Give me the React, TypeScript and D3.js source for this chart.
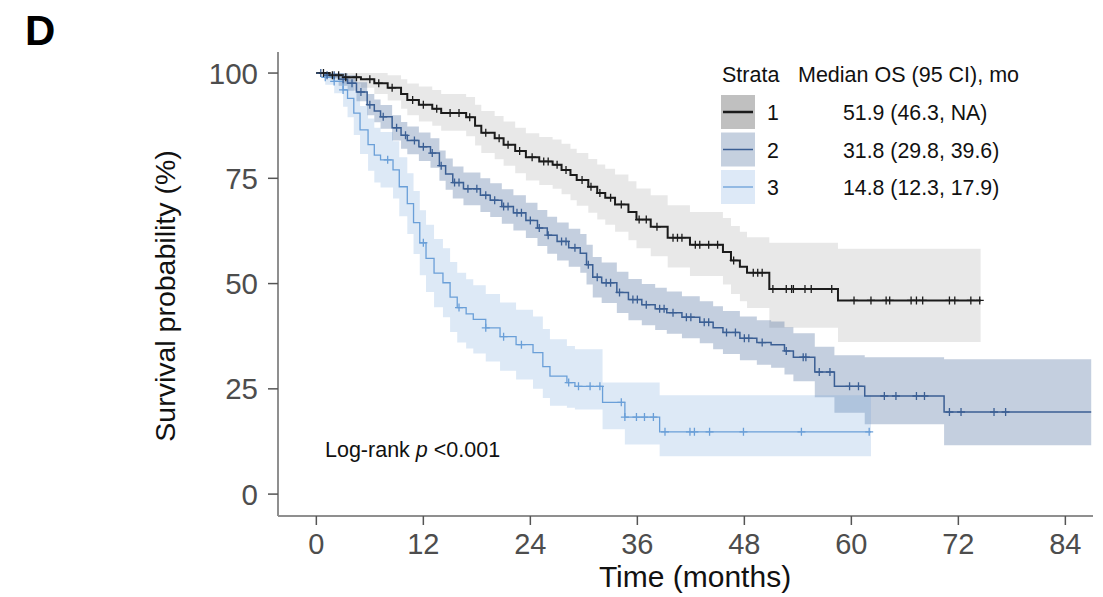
import * as d3 from 'd3'
import React from 'react'

// [time (months), survival %, lower CI %, upper CI %] at each step
type Row = [number, number, number, number]

const strata1: Row[] = [
  [0, 100, 100, 100], [1.5, 99.5, 98.5, 100], [3, 99, 97.5, 100], [5, 98.5, 96.5, 100],
  [6.5, 97.6, 95, 100], [8, 96.5, 93.5, 99.5], [9.5, 95, 91.5, 98.5], [10.2, 93.6, 90, 97.5],
  [11.5, 92.5, 88.5, 96.8], [13, 91.5, 87.5, 96], [14, 90.5, 86.3, 95], [16.8, 89.5, 85, 94.3],
  [17.8, 87.5, 82.8, 92.5], [18.5, 85.8, 81, 91], [20, 84.5, 79.5, 89.8], [21, 83, 78, 88.5],
  [22.3, 81.5, 76.2, 87], [23.5, 80, 74.5, 85.7], [25, 79, 73.4, 84.8], [26.5, 78.2, 72.5, 84.2],
  [27.5, 77, 71.2, 83.2], [28.5, 75.8, 69.8, 82], [29.2, 74.6, 68.5, 81], [30.5, 73, 66.8, 79.6],
  [31.5, 71.5, 65.2, 78.3], [32.4, 70.4, 64, 77.3], [33.5, 68.8, 62.3, 75.9], [35, 67, 60.3, 74.3],
  [35.9, 65.2, 58.4, 72.6], [37.5, 63.5, 56.5, 71], [39.4, 60.9, 53.8, 68.6], [41.9, 59.2, 51.8, 67],
  [45.6, 57.5, 49.8, 65.6], [46.5, 55.5, 47.5, 63.7], [47.5, 54, 45.8, 62.3], [48.3, 52.6, 44.2, 61],
  [50.8, 48.7, 39.5, 59.7], [58.5, 46.0, 36.1, 58.3],
]
const strata2: Row[] = [
  [0, 100, 100, 100], [1, 99.5, 98.8, 100], [2.5, 98.5, 97, 100], [3.5, 97.6, 95.8, 99.5],
  [4.5, 95.5, 93.3, 97.8], [5.7, 92.5, 90, 95], [6.5, 91, 88.3, 93.7], [7.2, 89.6, 86.8, 92.4],
  [8.5, 87, 84, 90], [9.5, 85.2, 82, 88.4], [10.2, 84, 80.7, 87.3], [11.5, 82.5, 79.1, 85.9],
  [12.8, 81, 77.5, 84.5], [13.8, 78, 74.4, 81.6], [14.5, 76, 72.3, 79.7], [15.3, 74, 70.2, 77.8],
  [16.5, 72.5, 68.6, 76.4], [18.4, 71, 67, 75], [19.5, 69.8, 65.8, 73.8], [20.8, 68.3, 64.2, 72.4],
  [22.1, 66.8, 62.6, 71], [23.5, 65, 60.8, 69.2], [24.8, 63.2, 58.9, 67.5], [25.9, 61.5, 57.1, 65.9],
  [27, 60, 55.5, 64.5], [28.3, 58.5, 54, 63], [29.6, 57.2, 52.6, 61.8], [30.3, 54.5, 49.8, 59.2],
  [31, 51.5, 46.7, 56.3], [32, 50.2, 45.4, 55], [33.7, 47.9, 43, 52.8], [35, 46.2, 41.3, 51.1],
  [36.5, 45, 40.1, 49.9], [38, 44, 39, 49], [39.3, 43.1, 38.1, 48.1], [41, 42, 37, 47],
  [43, 40.8, 35.8, 45.8], [44.5, 39.5, 34.4, 44.6], [45.6, 38.4, 33.3, 43.5], [47.5, 37, 31.8, 42.2],
  [49.4, 36, 30.7, 41.3], [51, 35.5, 30, 41], [52.5, 34, 28.4, 39.6], [53.5, 32.5, 26.8, 38.2],
  [55.9, 29, 23, 35], [58.1, 25.6, 19.3, 33], [61.5, 23.3, 16.6, 32.5], [70.4, 19.5, 11.6, 32],
]
const strata3: Row[] = [
  [0, 100, 100, 100], [1, 99, 97.2, 100], [2, 98, 95.2, 100], [3, 96, 92, 99.8],
  [3.5, 94, 89.5, 98.4], [4.2, 90.5, 85.3, 95.7], [4.9, 86.5, 80.8, 92.2], [5.8, 83, 76.8, 89.2],
  [6.5, 80.5, 74, 87], [7.2, 79.4, 72.8, 86], [8.6, 77, 70.2, 83.8], [9.3, 73, 66, 80],
  [10.2, 69, 61.8, 76.2], [10.9, 64.5, 57, 72], [11.6, 59.7, 52, 67.4], [12.3, 56, 48, 64],
  [13.2, 52.5, 44.4, 60.6], [14.2, 50.2, 42, 58.4], [15, 46.8, 38.5, 55.1], [15.8, 44.3, 36, 52.6],
  [16.8, 42.8, 34.6, 51], [17.6, 41.5, 33.4, 49.6], [19, 39.5, 31.5, 47.5], [20.6, 37.4, 29.3, 45.5],
  [22.4, 35.5, 27.2, 43.8], [24.3, 33.6, 25, 42.2], [25.4, 30.3, 22.8, 39.2], [26.2, 28, 21, 36.8],
  [28.1, 26.5, 20.5, 35.2], [29, 25.6, 20.1, 34.4], [32.1, 21.8, 15.4, 26.5], [34.6, 18.3, 11.8, 26.5],
  [38.5, 14.8, 9, 23.5],
]
const endTimes = [74.5, 86.9, 62.2]

const censor1 = [
  0.8, 1.8, 2.5, 3.3, 4.5, 6, 7, 8.5, 10.8, 12, 13.5, 15, 16, 17.2, 19, 20.5, 21.5, 22.8, 24.2, 25.5,
  26, 27, 28, 29.8, 30.8, 31.8, 33, 34.2, 36.2, 37, 38.2, 40, 40.5, 41, 42.5, 43, 44, 45, 46.8, 49,
  49.5, 50, 51.2, 52.7, 53.3, 53.5, 54.8, 55.5, 57.8, 60.3, 62.2, 63.9, 64.3, 66.7, 67.3, 68, 71,
  71.6, 73.4, 74.4,
]
const censor2 = [
  0.5, 1.2, 2, 3, 4, 5, 6, 7.5, 9, 10, 11, 12, 13, 14, 15.5, 16, 17, 18, 19, 20, 21, 21.5, 22.5, 23,
  24, 25, 26, 27.5, 28, 29, 30.5, 31.5, 32.5, 33, 34, 35.5, 36, 37, 38.5, 39, 40, 41.5, 42, 43.5, 44,
  46, 47, 48, 48.5, 50, 52.7, 54.6, 54.9, 56.4, 57.6, 59.8, 60.8, 63.7, 65, 67.3, 68.2, 71, 72.3, 76,
  77.3,
]
const censor3 = [
  1, 2, 3, 8, 12, 16, 19, 21, 23, 28.3, 29.4, 30.7, 31.8, 34.2, 34.6, 35.9, 36.8, 37.8, 39.1, 41.9,
  42.4, 44.1, 47.9, 54.4, 62,
]

const strataLabels = ['1', '2', '3']
const medianLabels = ['51.9 (46.3, NA)', '31.8 (29.8, 39.6)', '14.8 (12.3, 17.9)']
const xTicks = [0, 12, 24, 36, 48, 60, 72, 84]
const yTicks = [0, 25, 50, 75, 100]

const lineColors = ['#1b1b1b', '#3b5f94', '#6a9fd8']
const bandColors = ['#000000', '#3b5f94', '#6aa0da']
const bandOpacity = [0.09, 0.3, 0.23]
const keyFills = ['#c0c0c0', '#c5d0df', '#dde9f7']
const lineWidths = [2, 1.5, 1.3]

const font = 'Liberation Sans, Arial, Helvetica, sans-serif'

const App: React.FC = () => {
  const width = 1103
  const height = 597
  const x = d3.scaleLinear().domain([-4.3, 87.1]).range([278, 1093])
  const y = d3.scaleLinear().domain([-5.2, 105]).range([516, 52])

  const allStrata = [strata1, strata2, strata3]
  const censors = [censor1, censor2, censor3]

  const series = allStrata.map((rows, i) => {
    const last = rows[rows.length - 1]
    return [...rows, [endTimes[i], last[1], last[2], last[3]] as Row]
  })

  const line = d3
    .line<Row>()
    .x(d => x(d[0]))
    .y(d => y(d[1]))
    .curve(d3.curveStepAfter)
  const area = d3
    .area<Row>()
    .x(d => x(d[0]))
    .y0(d => y(d[2]))
    .y1(d => y(d[3]))
    .curve(d3.curveStepAfter)

  const survAt = (rows: Row[], t: number) => {
    let v = rows[0][1]
    for (const r of rows) if (r[0] <= t) v = r[1]
    return v
  }

  const legendRowY = (i: number) => 112 + i * 37.5

  return (
    <svg
      width={width}
      height={height}
      style={{ position: 'absolute', left: 0, top: 0, background: '#fff' }}
      fontFamily={font}
    >
      <text x={25} y={45} fontSize={42} fontWeight="bold" fill="#000">
        D
      </text>

      {/* confidence bands */}
      {series.map((rows, i) => (
        <path key={`b${i}`} d={area(rows) ?? ''} fill={bandColors[i]} fillOpacity={bandOpacity[i]} />
      ))}

      {/* survival curves */}
      {[2, 1, 0].map(i => (
        <path
          key={`l${i}`}
          d={line(series[i]) ?? ''}
          fill="none"
          stroke={lineColors[i]}
          strokeWidth={lineWidths[i]}
        />
      ))}

      {/* censor marks */}
      {[2, 1, 0].map(i =>
        censors[i].map((t, j) => {
          const cx = x(t)
          const cy = y(survAt(allStrata[i], t))
          return (
            <path
              key={`c${i}-${j}`}
              d={`M${cx - 4},${cy}H${cx + 4}M${cx},${cy - 4}V${cy + 4}`}
              stroke={lineColors[i]}
              strokeWidth={1.3}
            />
          )
        }),
      )}

      {/* axes */}
      <line x1={278} x2={278} y1={52} y2={516} stroke="#8f8f8f" strokeWidth={2} />
      <line x1={278} x2={1093} y1={516} y2={516} stroke="#8f8f8f" strokeWidth={2} />
      {yTicks.map(v => (
        <g key={`yt${v}`}>
          <line x1={268} x2={278} y1={y(v)} y2={y(v)} stroke="#555" strokeWidth={1.5} />
          <text x={258} y={y(v) + 10.5} fontSize={29.5} textAnchor="end" fill="#4d4d4d">
            {v}
          </text>
        </g>
      ))}
      {xTicks.map(v => (
        <g key={`xt${v}`}>
          <line x1={x(v)} x2={x(v)} y1={516} y2={525} stroke="#555" strokeWidth={1.5} />
          <text x={x(v)} y={554} fontSize={29} textAnchor="middle" fill="#4d4d4d">
            {v}
          </text>
        </g>
      ))}
      <text x={695} y={587} fontSize={30} textAnchor="middle" fill="#111">
        Time (months)
      </text>
      <text
        transform="translate(175,296) rotate(-90)"
        fontSize={28.5}
        textAnchor="middle"
        fill="#111"
      >
        Survival probability (%)
      </text>

      <text x={325} y={457} fontSize={21.5} fill="#111">
        Log-rank <tspan fontStyle="italic">p</tspan> {'<0.001'}
      </text>

      {/* legend */}
      <text x={722} y={82} fontSize={21.5} fill="#111">
        Strata
      </text>
      <text x={798} y={82} fontSize={21.5} fill="#111">
        Median OS (95 CI), mo
      </text>
      {strataLabels.map((s, i) => (
        <g key={`lg${i}`}>
          <rect x={721} y={legendRowY(i) - 17} width={34} height={34} fill={keyFills[i]} />
          <line
            x1={723}
            x2={753}
            y1={legendRowY(i)}
            y2={legendRowY(i)}
            stroke={lineColors[i]}
            strokeWidth={lineWidths[i] + (i === 0 ? 0.5 : 0)}
          />
          <text x={767} y={legendRowY(i) + 8} fontSize={21.3} fill="#111">
            {s}
          </text>
          <text x={843} y={legendRowY(i) + 8} fontSize={21.3} fill="#111">
            {medianLabels[i]}
          </text>
        </g>
      ))}
    </svg>
  )
}

export default App
